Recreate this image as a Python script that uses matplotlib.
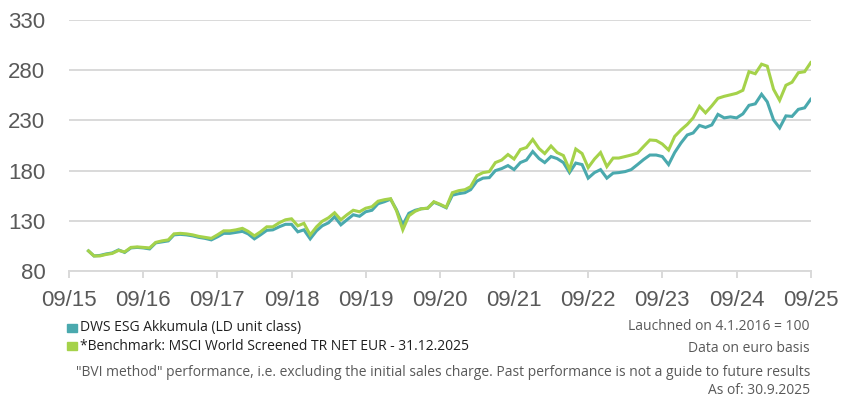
import numpy as np
import pandas as pd
import matplotlib
matplotlib.use("Agg")
import matplotlib.pyplot as plt
import matplotlib.dates as mdates
from matplotlib.patches import Rectangle

# launch value, then month ends Jan 2016 .. Sep 2025
start_date = "2016-01-04"
start_value = 100

fund = [95, 95.5, 97, 98, 101, 98.5, 103, 103.5, 103, 102, 108, 109,
        110, 116, 116.5, 116, 115, 113.5, 112.5, 111, 114, 117.5, 117.5, 118.5,
        119.5, 117, 112, 116, 120.5, 121, 124, 126.5, 126.5, 119, 121, 112,
        120, 125, 128, 134, 126, 131, 136, 134.5, 139, 140.5, 147, 149,
        151.5, 141, 126, 137.5, 140.5, 142, 142.5, 148.5, 146, 143, 155.5, 157,
        158, 161, 169.5, 172.5, 173, 180, 182, 185, 181, 188, 190.5, 199,
        192, 188, 194, 192, 188, 178, 187.5, 186, 172.5, 178, 181, 172.5,
        177.5, 178, 179, 181, 186, 191, 195.5, 195.5, 194, 186, 198, 207.5,
        215.5, 217.5, 225, 223, 225.5, 236, 232.5, 233.5, 232.5, 236.5, 245, 246.5,
        256, 248.5, 230.5, 222.5, 234.5, 234, 241, 242.5, 251]

bench = [95, 95, 96.5, 97.5, 100.5, 99, 103.5, 104, 103.5, 103, 108.5, 110,
         111, 117, 117.5, 117, 116, 114.5, 113.5, 112.5, 116, 120, 120, 121,
         122.5, 119.5, 115, 119, 124, 124, 128, 131, 132, 125, 127.5, 116,
         124, 129.5, 133, 138, 131, 136, 140.5, 139, 142.5, 144, 149.5, 151,
         152, 140, 121, 135, 139.5, 142, 142.5, 149, 146.5, 143.5, 158, 160,
         161, 164, 175, 178, 179, 188, 190.5, 196, 191.5, 201, 203, 211,
         202, 197, 204.5, 198, 195, 181, 201.5, 197, 183, 191.5, 198, 184,
         192.5, 192.5, 194, 195.5, 197.5, 204, 210.5, 210, 206.5, 200.5, 214, 220.5,
         226, 232.5, 244, 237.5, 244.5, 252, 254, 255.5, 257, 260, 278.5, 276.5,
         286, 284, 261, 250, 265, 268, 277.5, 278.5, 287.5]

fund_label = "DWS ESG Akkumula (LD unit class)"
bench_label = "*Benchmark: MSCI World Screened TR NET EUR - 31.12.2025"
y_ticks = [80, 130, 180, 230, 280, 330]
x_tick_labels = ["09/15", "09/16", "09/17", "09/18", "09/19", "09/20",
                 "09/21", "09/22", "09/23", "09/24", "09/25"]

dates = [pd.Timestamp(start_date)] + list(pd.date_range("2016-01-31", "2025-09-30", freq="ME"))
fund_s = [start_value] + fund
bench_s = [start_value] + bench
tick_dates = pd.date_range("2015-09-30", "2025-09-30", freq="12ME")

TEAL = "#4aa9ae"
GREEN = "#a5d24a"
GRAY = "#595959"

fig = plt.figure(figsize=(8.43, 4.01), dpi=100)
ax = fig.add_axes([69 / 843, 1 - 271 / 401, (810.7 - 69) / 843, 251 / 401])

ax.plot(dates, fund_s, color=TEAL, lw=2.2, solid_joinstyle="miter")
ax.plot(dates, bench_s, color=GREEN, lw=2.2, solid_joinstyle="miter")

ax.set_ylim(80, 330)
ax.set_xlim(tick_dates[0], tick_dates[-1])
ax.set_yticks(y_ticks)
ax.set_xticks(tick_dates)
ax.set_xticklabels(x_tick_labels)
ax.grid(axis="y", color="#d9d9d9", lw=1.4)
ax.set_axisbelow(True)
for s in ["top", "right", "left"]:
    ax.spines[s].set_visible(False)
ax.spines["bottom"].set_color("#d9d9d9")
ax.spines["bottom"].set_linewidth(1.4)
ax.tick_params(axis="y", length=0, pad=17, labelsize=16, labelcolor=GRAY)
ax.tick_params(axis="x", length=5, width=1.4, color="#d9d9d9", pad=9,
               labelsize=16, labelcolor=GRAY)
for lab in ax.get_xticklabels() + ax.get_yticklabels():
    lab.set_fontfamily("Liberation Sans")

# legend and notes
tf = dict(fontfamily="Open Sans", fontsize=10, color="#1f1f1f", va="center")
nf = dict(fontfamily="Open Sans", fontsize=10, color="#595959", va="center")
fig.patches.append(Rectangle((67 / 843, 1 - 332 / 401), 9.5 / 843, 8.5 / 401,
                             transform=fig.transFigure, color=TEAL, figure=fig))
fig.patches.append(Rectangle((67 / 843, 1 - 350 / 401), 9.5 / 843, 8.5 / 401,
                             transform=fig.transFigure, color=GREEN, figure=fig))
fig.text(80 / 843, 1 - 327 / 401, fund_label, **tf)
fig.text(80 / 843, 1 - 347 / 401, bench_label, **tf)
fig.text(810 / 843, 1 - 327 / 401, "Lauchned on 4.1.2016 = 100", ha="right", **nf)
fig.text(810 / 843, 1 - 348 / 401, "Data on euro basis", ha="right", **nf)
fig.text(810 / 843, 1 - 372 / 401,
         "\"BVI method\" performance, i.e. excluding the initial sales charge. "
         "Past performance is not a guide to future results", ha="right", **nf)
fig.text(810 / 843, 1 - 391 / 401, "As of: 30.9.2025", ha="right", **nf)

fig.savefig("out.png", dpi=100)
